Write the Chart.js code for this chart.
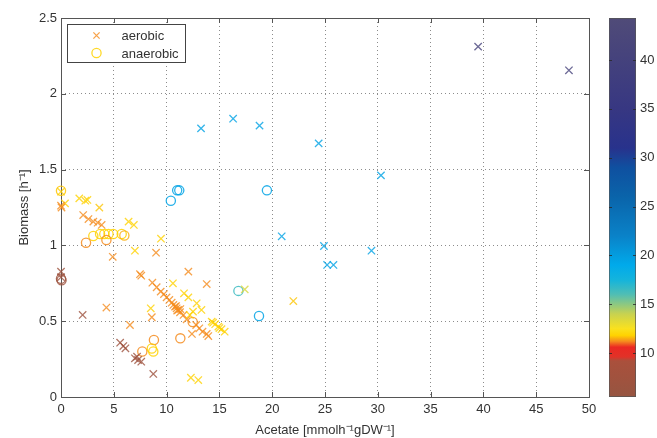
<!DOCTYPE html>
<html>
<head>
<meta charset="utf-8">
<script src="https://cdn.jsdelivr.net/npm/chart.js@4.4.1/dist/chart.umd.min.js"></script>
<style>
  html, body { margin: 0; padding: 0; background: #fff; }
  #wrap { position: relative; width: 657px; height: 438px; }
  #wrap canvas { position: absolute; left: 0; top: 0; }
</style>
</head>
<body>
<div id="wrap">
  <canvas id="scatter" width="657" height="438"></canvas>
  <canvas id="cbar" width="657" height="438"></canvas>
</div>
<script>
// aerobic runs (x markers): acetate, biomass, colour value
const aeroX = [0, 0.38, 0, 0.05, 1.73, 2.3, 2.5, 3.63, 2.1, 2.6, 3.06, 3.47, 3.85, 6.4, 6.9, 9.47, 7.0, 9.0, 4.9,
  0, 0, 7.48, 7.6, 12.06, 10.6, 13.8, 8.65,
  9.06, 9.44, 9.75, 10.0, 10.26, 10.48, 10.64, 10.8, 10.95, 11.1, 11.27, 11.6, 11.9, 12.8, 13.1, 13.4, 13.8, 13.95,
  10.9, 11.0, 11.3,
  11.65, 12.06, 12.85, 13.3, 12.5, 12.2,
  14.27, 14.4, 14.6, 14.9, 15.0, 15.2, 15.5,
  8.6, 8.5, 4.3, 2.05, 6.53, 12.4,
  5.6, 5.9, 6.1, 7.0, 7.3, 7.6, 7.2, 8.74,
  12.3, 13.0, 17.4, 22.0,
  13.26, 16.3, 18.8, 24.4, 30.3, 20.9, 24.9, 25.2, 25.8, 29.4,
  39.5, 48.1];
const aeroY = [1.354, 1.277, 1.262, 1.25, 1.31, 1.295, 1.30, 1.249, 1.2, 1.174, 1.157, 1.15, 1.135, 1.157, 1.135, 1.044, 0.965, 0.952, 0.925,
  0.827, 0.79, 0.81, 0.80, 0.827, 0.75, 0.745, 0.754,
  0.724, 0.695, 0.679, 0.657, 0.64, 0.622, 0.607, 0.596, 0.585, 0.574, 0.559, 0.541, 0.512, 0.475, 0.453, 0.431, 0.416, 0.402,
  0.60, 0.57, 0.58,
  0.684, 0.657, 0.618, 0.574, 0.563, 0.541,
  0.497, 0.49, 0.48, 0.464, 0.455, 0.447, 0.431,
  0.526, 0.585, 0.59, 0.541, 0.475, 0.416,
  0.358, 0.336, 0.321, 0.255, 0.244, 0.233, 0.266, 0.152,
  0.127, 0.112, 0.71, 0.633,
  1.772, 1.836, 1.79, 1.673, 1.462, 1.06, 0.996, 0.871, 0.871, 0.965,
  2.311, 2.155];
const aeroC = [11.8, 11.8, 11.2, 11.2, 11.8, 11.8, 11.8, 11.7, 11.2, 11.2, 11.2, 11.2, 11.2, 11.8, 11.8, 11.8, 11.8, 11.2, 11.2,
  7, 7, 11.2, 11.2, 11.2, 11.8, 11.2, 11.2,
  11.2, 11.2, 11.2, 11.2, 11.2, 11.2, 11.2, 11.2, 11.2, 11.2, 11.2, 11.2, 11.2, 11.2, 11.2, 11.2, 11.2, 11.2,
  11.2, 11.2, 11.2,
  11.8, 11.8, 11.8, 11.8, 11.8, 11.8,
  11.8, 11.8, 11.8, 11.8, 11.8, 11.8, 11.8,
  11.2, 11.8, 11.2, 7, 11.2, 11.2,
  7, 7, 7, 7, 7, 7, 7, 7,
  11.8, 11.8, 13.5, 11.7,
  19.5, 19.5, 19.5, 19.5, 19.5, 19.5, 19.5, 19.5, 19.5, 19.5,
  41, 41];

// anaerobic runs (circles)
const anaeX = [0, 0, 0.05, 3.06, 3.7, 4.1, 4.5, 4.95, 5.75, 6.0, 2.37, 4.3,
  11.0, 11.2, 10.4, 19.5, 16.8, 18.75, 12.47, 11.3, 8.8, 7.7, 8.6, 8.74];
const anaeY = [1.36, 0.78, 0.77, 1.062, 1.075, 1.075, 1.075, 1.075, 1.075, 1.065, 1.018, 1.036,
  1.363, 1.363, 1.295, 1.363, 0.70, 0.534, 0.495, 0.387, 0.376, 0.30, 0.32, 0.30];
const anaeC = [11.7, 7, 7, 11.8, 11.8, 11.8, 11.8, 11.8, 11.8, 11.5, 11.2, 11.2,
  19.5, 19.5, 19.5, 19.5, 16.5, 19.5, 11.2, 11.2, 11.2, 11.2, 11.8, 11.8];

const xTicks = [0, 5, 10, 15, 20, 25, 30, 35, 40, 45, 50];
const yTicks = [0, 0.5, 1, 1.5, 2, 2.5];
const cbarTicks = [10, 15, 20, 25, 30, 35, 40];
const cbarMin = 5.5, cbarMax = 44.3;

// colormap
const cmapStops = [
  [5.5, [150, 85, 65]], [9.2, [170, 80, 60]], [9.6, [225, 50, 40]], [10.6, [235, 40, 35]],
  [11.2, [245, 140, 30]], [11.8, [255, 210, 0]], [12.5, [250, 225, 30]], [14, [200, 210, 80]],
  [16, [80, 190, 180]], [17.5, [20, 180, 220]], [19, [0, 170, 235]], [22, [10, 130, 200]],
  [26, [10, 100, 170]], [29, [15, 80, 160]], [31, [40, 50, 140]], [35, [55, 55, 130]], [44.3, [80, 75, 120]]
];

function cmap(v, a) {
  let i = 0;
  while (i < cmapStops.length - 2 && v > cmapStops[i + 1][0]) i++;
  const [v0, c0] = cmapStops[i], [v1, c1] = cmapStops[i + 1];
  const t = Math.min(1, Math.max(0, (v - v0) / (v1 - v0)));
  const c = c0.map((k, j) => Math.round(k + (c1[j] - k) * t));
  return `rgba(${c[0]},${c[1]},${c[2]},${a === undefined ? 1 : a})`;
}

const FONT = { family: "'Liberation Sans', Arial, sans-serif", size: 13 };
const TEXT = '#333';
const AXIS = '#555';

// box, inward tick marks
const boxPlugin = {
  id: 'box',
  beforeDatasetsDraw(chart) {
    const { ctx, chartArea: a, scales: { x, y } } = chart;
    ctx.save();
    ctx.strokeStyle = AXIS;
    ctx.lineWidth = 1;
    ctx.beginPath();
    xTicks.forEach(v => {
      const px = Math.round(x.getPixelForValue(v)) + 0.5;
      ctx.moveTo(px, a.bottom); ctx.lineTo(px, a.bottom - 5);
      ctx.moveTo(px, a.top); ctx.lineTo(px, a.top + 5);
    });
    yTicks.forEach(v => {
      const py = Math.round(y.getPixelForValue(v)) + 0.5;
      ctx.moveTo(a.left, py); ctx.lineTo(a.left + 5, py);
      ctx.moveTo(a.right, py); ctx.lineTo(a.right - 5, py);
    });
    ctx.stroke();
    ctx.strokeRect(Math.round(a.left) + 0.5, Math.round(a.top) + 0.5,
      Math.round(a.right - a.left), Math.round(a.bottom - a.top));
    ctx.restore();
  }
};

const legendPlugin = {
  id: 'boxLegend',
  afterDatasetsDraw(chart) {
    const { ctx, chartArea: a } = chart;
    const l = Math.round(a.left) + 6.5, t = Math.round(a.top) + 6.5;
    ctx.save();
    ctx.fillStyle = '#fff';
    ctx.fillRect(l, t, 118, 38);
    ctx.strokeStyle = '#444';
    ctx.lineWidth = 1;
    ctx.strokeRect(l, t, 118, 38);
    const rows = [t + 11, t + 28.5];
    chart.data.datasets.forEach((d, i) => {
      ctx.strokeStyle = d.legendColor;
      ctx.lineWidth = d.pointBorderWidth;
      ctx.beginPath();
      if (d.pointStyle === 'circle') {
        ctx.arc(l + 29, rows[i], d.pointRadius, 0, Math.PI * 2);
      } else {
        const r = d.pointRadius * 0.6;
        ctx.moveTo(l + 29 - r, rows[i] - r); ctx.lineTo(l + 29 + r, rows[i] + r);
        ctx.moveTo(l + 29 - r, rows[i] + r); ctx.lineTo(l + 29 + r, rows[i] - r);
      }
      ctx.stroke();
      ctx.fillStyle = TEXT;
      ctx.font = `${FONT.size}px ${FONT.family}`;
      ctx.textBaseline = 'middle';
      ctx.fillText(d.label, l + 54, rows[i] + 1);
    });
    ctx.restore();
  }
};

const toPts = (xs, ys) => xs.map((v, i) => ({ x: v, y: ys[i] }));

new Chart(document.getElementById('scatter'), {
  type: 'scatter',
  data: {
    datasets: [
      {
        label: 'aerobic',
        data: toPts(aeroX, aeroY),
        pointStyle: 'crossRot',
        pointRadius: 5.2,
        pointHoverRadius: 5.2,
        pointBorderWidth: 1.3,
        pointBorderColor: aeroC.map(c => cmap(c, 0.8)),
        pointBackgroundColor: 'rgba(0,0,0,0)',
        legendColor: cmap(11.2, 0.8),
        clip: false
      },
      {
        label: 'anaerobic',
        data: toPts(anaeX, anaeY),
        pointStyle: 'circle',
        pointRadius: 4.6,
        pointHoverRadius: 4.6,
        pointBorderWidth: 1.3,
        pointBorderColor: anaeC.map(c => cmap(c, 0.85)),
        pointBackgroundColor: 'rgba(0,0,0,0)',
        legendColor: cmap(11.8, 0.85),
        clip: false
      }
    ]
  },
  options: {
    responsive: false,
    animation: false,
    events: [],
    layout: { padding: { left: 0, right: 68, top: 18, bottom: 0 } },
    plugins: { legend: { display: false }, tooltip: { enabled: false } },
    scales: {
      x: {
        type: 'linear', min: 0, max: 50,
        afterBuildTicks: s => { s.ticks = xTicks.map(v => ({ value: v })); },
        afterFit: s => { s.height = 41; },
        grid: { color: 'rgba(0,0,0,0.45)', lineWidth: 1, drawTicks: false },
        border: { display: false, dash: [1, 3] },
        ticks: { font: FONT, color: TEXT, padding: 5, maxRotation: 0, callback: v => String(v) },
        title: { display: true, text: 'Acetate [mmolh⁻¹gDW⁻¹]', font: FONT, color: TEXT, padding: { top: 0, bottom: 0 } }
      },
      y: {
        type: 'linear', min: 0, max: 2.5,
        afterBuildTicks: s => { s.ticks = yTicks.map(v => ({ value: v })); },
        afterFit: s => { s.width = 61; },
        grid: { color: 'rgba(0,0,0,0.45)', lineWidth: 1, drawTicks: false },
        border: { display: false, dash: [1, 3] },
        ticks: { font: FONT, color: TEXT, padding: 4, callback: v => String(v) },
        title: { display: true, text: 'Biomass [h⁻¹]', font: FONT, color: TEXT, padding: { top: 17, bottom: 0 } }
      }
    }
  },
  plugins: [boxPlugin, legendPlugin]
});

// colour bar
function barGradient(chart) {
  const a = chart.chartArea;
  const y = chart.scales.y;
  if (!a || !y) return cmap(20);
  const y0 = y.getPixelForValue(cbarMin), y1 = y.getPixelForValue(cbarMax);
  if (!isFinite(y0) || !isFinite(y1)) return cmap(20);
  const g = chart.ctx.createLinearGradient(0, y0, 0, y1);
  cmapStops.forEach(([v]) => {
    g.addColorStop((v - cbarMin) / (cbarMax - cbarMin), cmap(v));
  });
  return g;
}

const cbarTickPlugin = {
  id: 'cbarTicks',
  afterDatasetsDraw(chart) {
    const { ctx, chartArea: a, scales: { y } } = chart;
    ctx.save();
    ctx.strokeStyle = 'rgba(40,40,40,0.8)';
    ctx.lineWidth = 1;
    ctx.beginPath();
    cbarTicks.forEach(v => {
      const py = Math.round(y.getPixelForValue(v)) + 0.5;
      ctx.moveTo(a.left, py); ctx.lineTo(a.left + 3, py);
      ctx.moveTo(a.right, py); ctx.lineTo(a.right - 3, py);
    });
    ctx.stroke();
    ctx.restore();
  }
};

new Chart(document.getElementById('cbar'), {
  type: 'bar',
  data: {
    labels: [''],
    datasets: [{
      data: [[cbarMin, cbarMax]],
      backgroundColor: ctx => barGradient(ctx.chart),
      borderColor: AXIS,
      borderWidth: 1,
      borderSkipped: false,
      barPercentage: 1,
      categoryPercentage: 1
    }]
  },
  options: {
    responsive: false,
    animation: false,
    events: [],
    layout: { padding: { left: 609, right: 0, top: 18, bottom: 41 } },
    plugins: { legend: { display: false }, tooltip: { enabled: false } },
    scales: {
      x: { display: false },
      y: {
        position: 'right', min: cbarMin, max: cbarMax,
        afterBuildTicks: s => { s.ticks = cbarTicks.map(v => ({ value: v })); },
        afterFit: s => { s.width = 21; },
        grid: { display: false, drawTicks: false },
        border: { display: false },
        ticks: { font: FONT, color: TEXT, padding: 4 }
      }
    }
  },
  plugins: [cbarTickPlugin]
});
</script>
</body>
</html>
